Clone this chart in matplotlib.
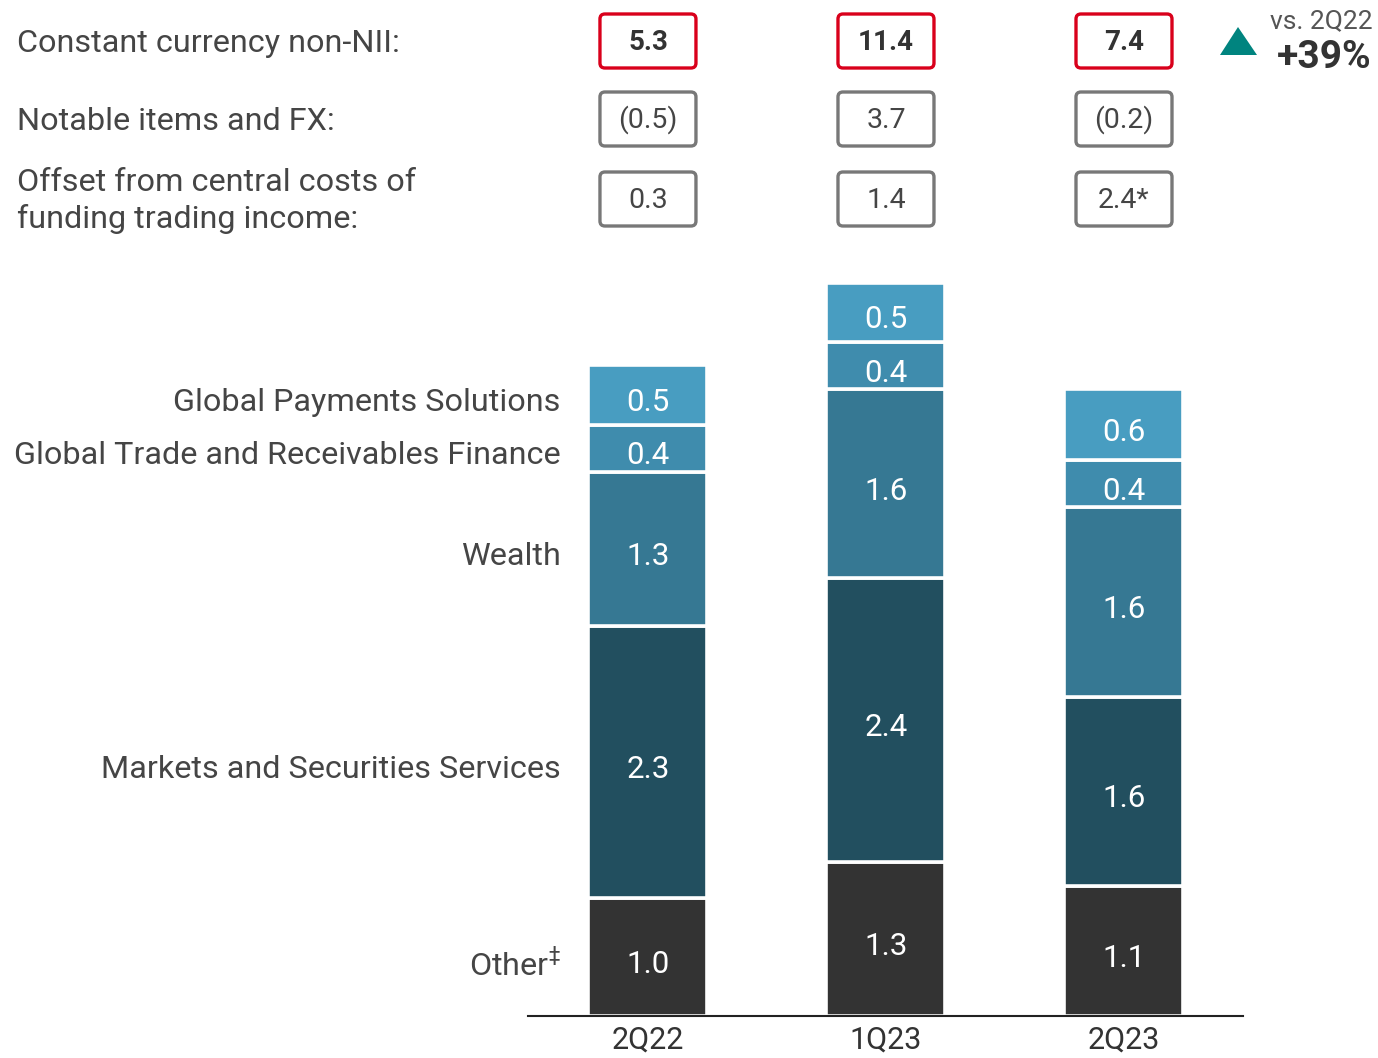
import matplotlib
matplotlib.use("Agg")
import matplotlib.pyplot as plt
from matplotlib.patches import FancyBboxPatch, Polygon

plt.rcParams['font.family'] = ['Roboto', 'DejaVu Sans']

# data
periods = ['2Q22', '1Q23', '2Q23']
segments = ['Other\u2021', 'Markets and Securities Services', 'Wealth',
            'Global Trade and Receivables Finance', 'Global Payments Solutions']
other = [1.0, 1.3, 1.1]
markets = [2.3, 2.4, 1.6]
wealth = [1.3, 1.6, 1.6]
gtrf = [0.4, 0.4, 0.4]
gps = [0.5, 0.5, 0.6]
seg_colors = ['#333333', '#224f5f', '#367893', '#3f8cad', '#489dc1']

non_nii = ['5.3', '11.4', '7.4']
notable_fx = ['(0.5)', '3.7', '(0.2)']
offset_central = ['0.3', '1.4', '2.4*']
row_labels = ['Constant currency non-NII:', 'Notable items and FX:',
              'Offset from central costs of\nfunding trading income:']
growth_label = 'vs. 2Q22'
growth_value = '+39%'

TXT = '#454545'
LBL_SHIFT = 0.04  # nudge labels a bit below the segment centre

W, H = 1378, 1058
fig = plt.figure(figsize=(W / 100, H / 100), dpi=100)

# bar axes: baseline at y=1016px
ymax = 8.0
px_unit = 118.3
ax = fig.add_axes([528 / W, (H - 1016) / H, (1243 - 528) / W, ymax * px_unit / H])
ax.set_xlim(-0.504, 2.5)
ax.set_ylim(0, ymax)

series = [other, markets, wealth, gtrf, gps]
bottoms = [0.0] * len(periods)
x = list(range(len(periods)))
for vals, col in zip(series, seg_colors):
    ax.bar(x, vals, bottom=bottoms, width=0.5, color=col,
           edgecolor='white', linewidth=2.6)
    for i, v in enumerate(vals):
        ax.text(i, bottoms[i] + v / 2 - LBL_SHIFT, f'{v:.1f}', ha='center',
                va='center_baseline', color='white', fontsize=22.5)
    bottoms = [b + v for b, v in zip(bottoms, vals)]

# segment names, next to the first bar
cum = 0.0
for name, vals in zip(segments, series):
    label = name
    if name.endswith('\u2021'):
        label = name[:-1] + r'$^{\ddag}$'
    ax.text(-0.366, cum + vals[0] / 2 - LBL_SHIFT, label, ha='right',
            va='center_baseline', color=TXT, fontsize=23.3)
    cum += vals[0]

for s in ['top', 'right', 'left']:
    ax.spines[s].set_visible(False)
ax.spines['bottom'].set_linewidth(1.5)
ax.spines['bottom'].set_color('#222222')
ax.set_yticks([])
ax.set_xticks(x)
ax.set_xticklabels(periods, fontsize=22, color='#333333')
ax.tick_params(axis='x', length=0, pad=7)

# overlay in pixel coordinates for the header
ov = fig.add_axes([0, 0, 1, 1])
ov.set_xlim(0, W)
ov.set_ylim(H, 0)
ov.axis('off')
ov.patch.set_alpha(0)

fig.canvas.draw()
centers = [ax.transData.transform((i, 0))[0] for i in x]

row_y = [41, 119, 199]
rows = [non_nii, notable_fx, offset_central]
for r, (vals, y) in enumerate(zip(rows, row_y)):
    edge = '#d9001b' if r == 0 else '#787878'
    for cx, v in zip(centers, vals):
        box = FancyBboxPatch((cx - 48, y - 27), 96, 54,
                             boxstyle='round,pad=0,rounding_size=5',
                             facecolor='white', edgecolor=edge, linewidth=2.4)
        ov.add_patch(box)
        if r == 0:
            ov.text(cx, y + 1, v, ha='center', va='center', fontsize=20,
                    fontweight='bold', color='#333333')
        else:
            ov.text(cx, y + 1, v, ha='center', va='center', fontsize=20.5,
                    color=TXT)

ov.text(17, 43, row_labels[0], ha='left', va='center', fontsize=23.3,
        color=TXT)
ov.text(17, 121, row_labels[1], ha='left', va='center', fontsize=23.3,
        color=TXT)
ov.text(17, 201, row_labels[2], ha='left', va='center', fontsize=23.3,
        color=TXT, linespacing=1.3)

ov.add_patch(Polygon([(1220, 55), (1257, 55), (1238, 27)], closed=True,
                     facecolor='#00847f', edgecolor='none'))
ov.text(1373, 21, growth_label, ha='right', va='center', fontsize=19,
        color='#555555')
ov.text(1371, 58, growth_value, ha='right', va='center', fontsize=28,
        fontweight='bold', color='#333333')

fig.savefig('out.png', dpi=100)
